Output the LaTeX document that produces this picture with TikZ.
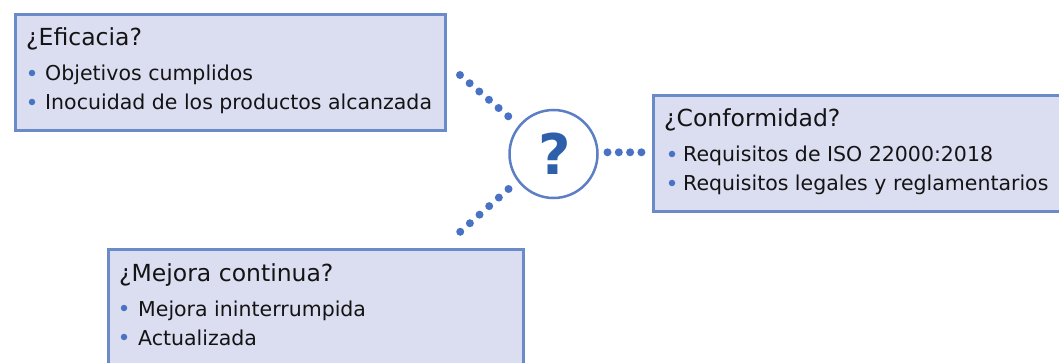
\documentclass[tikz,border=0pt]{standalone}
\usepackage{fontspec}
\setmainfont{DejaVu Sans}
\newfontfamily\qfont{DejaVu Sans}
\definecolor{boxfill}{RGB}{219,222,241}
\definecolor{boxline}{RGB}{106,138,200}
\definecolor{circline}{RGB}{92,126,196}
\definecolor{qblue}{RGB}{46,95,170}
\definecolor{dotblue}{RGB}{74,114,196}
\definecolor{txt}{RGB}{20,20,20}
\tikzset{
  infobox/.style={draw=boxline, fill=boxfill, line width=3pt, rectangle, inner sep=0pt},
  titletext/.style={anchor=base west, inner sep=0pt, font=\fontsize{23.5}{27}\selectfont, text=txt},
  itemtext/.style={anchor=base west, inner sep=0pt, font=\fontsize{20.5}{24}\selectfont, text=txt},
  bulletdot/.style={circle, fill=dotblue, inner sep=0pt, minimum size=6.5pt},
  qcircle/.style={circle, draw=circline, line width=2.5pt, fill=white, minimum size=88pt, inner sep=0pt},
  dotline/.style={dotblue, line width=8pt, line cap=round},
}
\begin{document}
\begin{tikzpicture}[x=1pt,y=-1pt]
\clip (0,0) rectangle (1059,363);
\fill[white] (0,0) rectangle (1059,363);
% boxes
\node[infobox, minimum width=430pt, minimum height=116pt] (box1) at (230.5,72.5) {};
\node[infobox, minimum width=420pt, minimum height=116pt] (box2) at (863.5,153.5) {};
\node[infobox, minimum width=415pt, minimum height=126pt] (box3) at (316,312.5) {};
% box 1 text
\node[titletext] (t1) at (26,46) {¿Eficacia?};
\node[bulletdot] (b1a) at (32,73) {};
\node[itemtext] (i1a) at (45,81) {Objetivos cumplidos};
\node[bulletdot] (b1b) at (32,102) {};
\node[itemtext] (i1b) at (45,110) {Inocuidad de los productos alcanzada};
% box 2 text
\node[titletext] (t2) at (664,127) {¿Conformidad?};
\node[bulletdot] (b2a) at (672,154) {};
\node[itemtext] (i2a) at (683,162) {Requisitos de ISO 22000:2018};
\node[bulletdot] (b2b) at (672,183) {};
\node[itemtext] (i2b) at (683,191) {Requisitos legales y reglamentarios};
% box 3 text
\node[titletext] (t3) at (119,281) {¿Mejora continua?};
\node[bulletdot] (b3a) at (124,308) {};
\node[itemtext] (i3a) at (138,316) {Mejora ininterrumpida};
\node[bulletdot] (b3b) at (124,337) {};
\node[itemtext] (i3b) at (138,345) {Actualizada};
% centre circle
\node[qcircle] (q) at (553.5,154) {};
\node[inner sep=0pt, text=qblue, font=\qfont\bfseries\fontsize{56}{60}\selectfont] (qm) at (554.5,154) {?};
% connector ends
\coordinate (c1a) at (460,75);
\coordinate (c1b) at (508.5,116.5);
\coordinate (c2a) at (607.5,152.3);
\coordinate (c2b) at (641.5,152.3);
\coordinate (c3a) at (508.5,189);
\coordinate (c3b) at (460,232);
\draw[dotline, dash pattern=on 0pt off 12.7pt] (c1a) -- (c1b);
\draw[dotline, dash pattern=on 0pt off 11.3pt] (c2a) -- (c2b);
\draw[dotline, dash pattern=on 0pt off 12.9pt] (c3a) -- (c3b);
\end{tikzpicture}
\end{document}
